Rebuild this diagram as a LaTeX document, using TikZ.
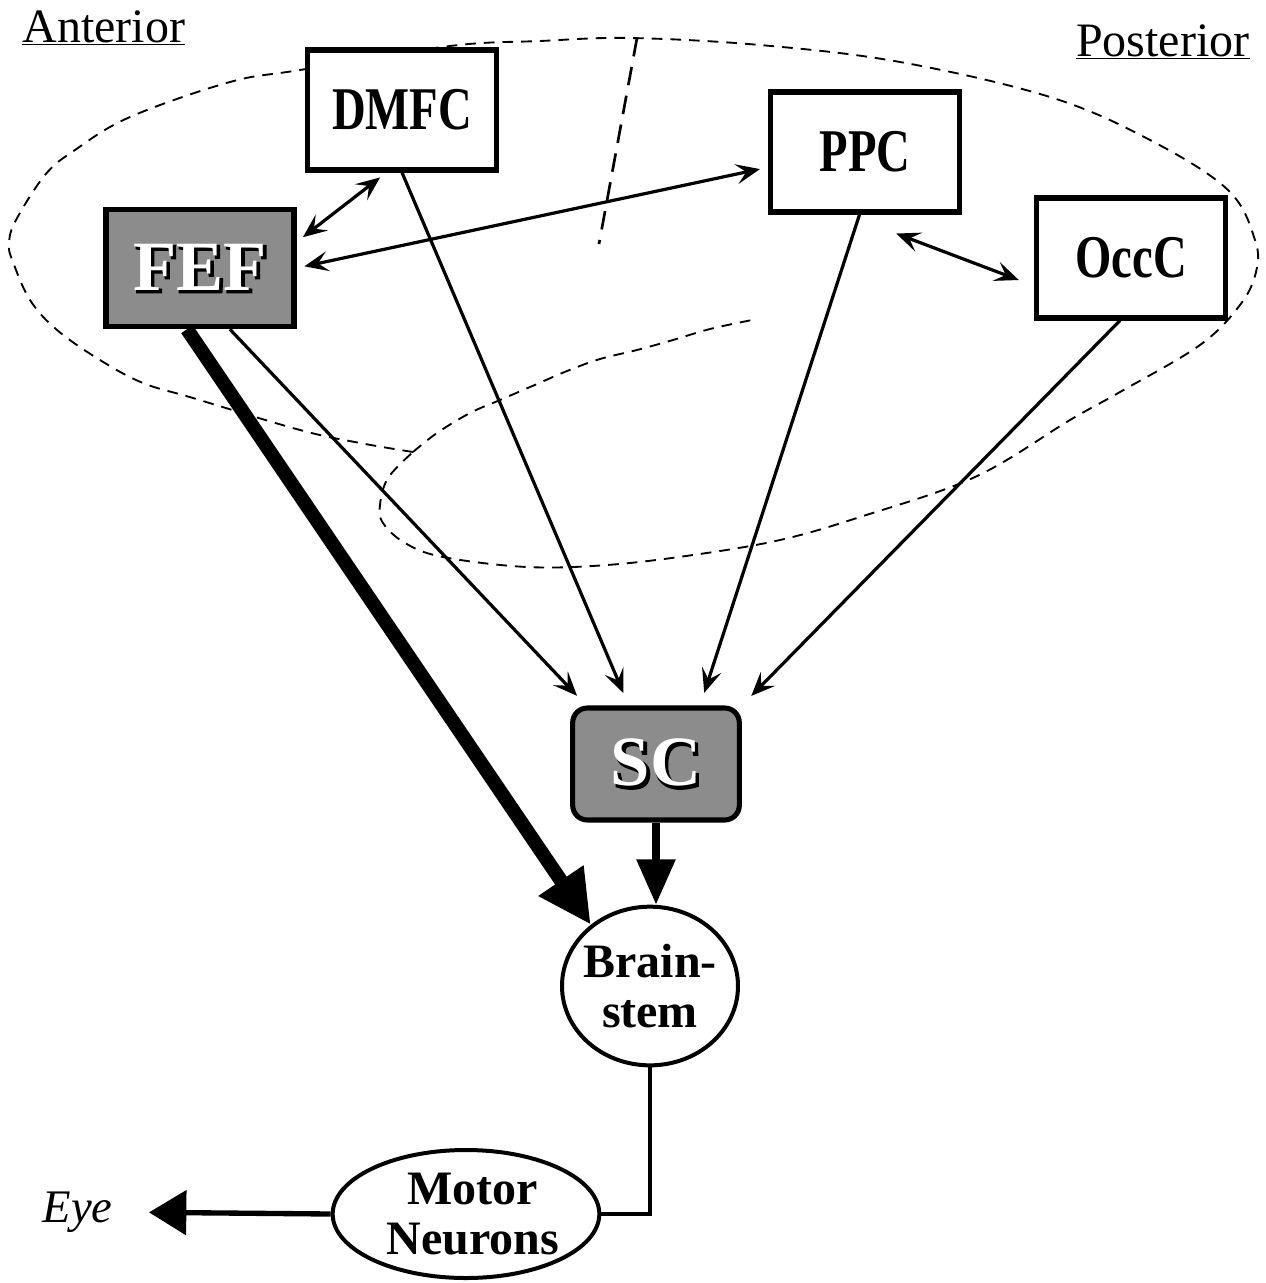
\documentclass[tikz,border=0pt]{standalone}
\usepackage{graphicx}
\usepackage{fontspec}
\setmainfont{Liberation Serif}
\newfontfamily\rimfont{Liberation Serif}[FakeBold=3]
\usetikzlibrary{arrows.meta,calc,shapes.geometric}

\newcommand{\boxfont}{\fontsize{35}{40}\selectfont\bfseries}
\newcommand{\ringfont}{\fontsize{36}{38}\selectfont\bfseries}
\newcommand{\hubfont}{\fontsize{53}{56}\selectfont\bfseries}
\newcommand{\tall}[1]{\scalebox{1}[1.3]{#1}}
% white letters with dark rim and shadow
\newcommand{\emboss}[1]{\leavevmode
  \rlap{\kern1.6pt\raisebox{-1.6pt}{\rimfont #1}}%
  {\color{white}#1}}

\tikzset{every picture/.style={line width=0.75pt}}
\tikzset{
  area/.style={draw, line width=3.8pt, fill=white, inner sep=0pt,
    minimum width=142pt, minimum height=90pt, font=\boxfont},
  hub/.style={draw, line width=3.8pt, fill=black!45, inner sep=0pt, font=\hubfont},
  relay/.style={draw, ellipse, line width=3pt, inner sep=0pt, fill=white},
  rim/.style={line width=1.4pt, dash pattern=on 8pt off 6pt},
  proj/.style={line width=2.4pt, -{Stealth[length=18pt,width=15pt,inset=7.5pt]}, shorten >=10pt},
  link/.style={line width=2.4pt, {Stealth[length=18pt,width=15pt,inset=7.5pt]}-{Stealth[length=18pt,width=15pt,inset=7.5pt]},
    shorten <=6pt, shorten >=6pt},
}

\begin{document}
\begin{tikzpicture}[x=0.75pt,y=0.75pt,yscale=-1]
\useasboundingbox (0,0) rectangle (1266,1283);

%Dashed outline: cortex
\draw[rim] plot[smooth, tension=0.6] coordinates {(413,452) (360,443) (300,430) (193,398) (143,383) (100,360) (57,330) (30,300) (13,262) (9,245) (15,222) (45,175) (75,150) (130,117) (230,82) (300,70) (450,46) (540,41) (630,38) (760,45) (900,62) (1050,97) (1150,140) (1228,190) (1255,240) (1256,272) (1240,305) (1200,345) (1120,392) (1070,420) (975,477) (860,517) (780,540) (693,555) (607,565) (527,567) (443,557) (405,543) (383,523) (380,505) (388,478) (413,452)};
%Dashed outline: inner fold
\draw[rim] plot[smooth, tension=0.6] coordinates {(413,452) (437,433) (470,413) (500,400) (537,384) (567,371) (600,359) (637,350) (673,340) (710,329) (752,320)};
%Dashed line: division
\draw[line width=2pt, dash pattern=on 14pt off 8pt] (637,38) -- (599,244);

% Text Node
\node[anchor=base west, inner sep=0pt, font=\fontsize{36}{40}\selectfont] (ant) at (22,42) {\underline{Anterior}};
% Text Node
\node[anchor=base east, inner sep=0pt, font=\fontsize{36}{40}\selectfont] (post) at (1250,56) {\underline{Posterior}};

%Shape: Rectangle
\node[area] (dmfc) at (402,110) {\tall{DMFC}};
%Shape: Rectangle
\node[area] (ppc) at (865,152) {\tall{PPC}};
%Shape: Rectangle
\node[area] (occ) at (1131,258) {\tall{OccC}};
%Shape: Rectangle
\node[hub, minimum width=141pt, minimum height=88pt] (fef) at (200,268) {\emboss{FEF}};
%Shape: Rounded Rectangle
\node[hub, rounded corners=11pt, minimum width=125pt, minimum height=84pt] (sc) at (656,764) {\emboss{SC}};
%Shape: Ellipse
\node[relay, minimum width=132pt, minimum height=119pt,
  label={[font=\ringfont, align=center]center:Brain-\\stem}] (bs) at (650,986) {};
%Shape: Ellipse
\node[relay, minimum width=200pt, minimum height=96pt,
  label={[font=\ringfont, align=center, xshift=5pt]center:Motor\\Neurons}] (mn) at (466,1214) {};
% Text Node
\node[anchor=east, inner sep=0pt, font=\fontsize{35}{40}\selectfont\itshape] (eye) at (113,1212) {Eye};

%Straight Lines: cortical links
\draw[link] (dmfc.-104) -- (fef.15);
\draw[link] (fef.east) -- (ppc.189);
\draw[link, shorten <=0pt, shorten >=0pt] ($(ppc.south east)+(-66,19)$) -- ($(occ.west)+(-15,22)$);

%Straight Lines: to SC
\draw[proj] (fef.-64) -- (sc.140);
\draw[proj] (dmfc.south) -- (sc.115);
\draw[proj] (ppc.-95) -- (sc.53);
\draw[proj] (occ.-100) -- (sc.north east);

%Thick Lines: to brainstem
\draw[line width=10.5pt, -{Triangle[length=40pt,width=38pt]}] ($(fef.south)+(-13,0)$) -- (bs.134);
\draw[line width=6pt, -{Triangle[length=34pt,width=28pt]}] (sc.south) -- (bs.north -| sc.south);

%Lines: to eye
\draw[line width=3pt] (bs.south) |- (mn.east);
\draw[line width=4pt, -{Triangle[length=28pt,width=33pt]}, shorten >=27pt] (mn.west) -- (eye.east);
\end{tikzpicture}
\end{document}
